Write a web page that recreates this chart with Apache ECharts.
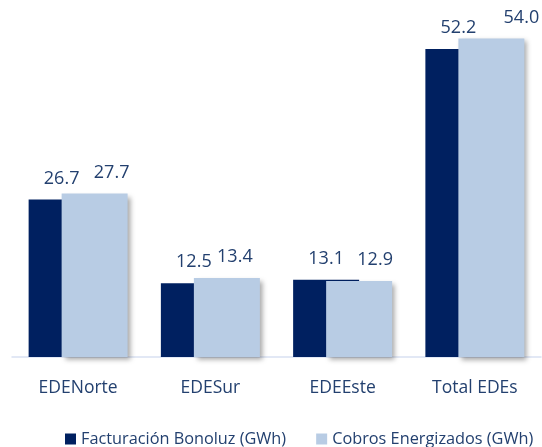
<!DOCTYPE html>
<html>
<head>
<meta charset="utf-8">
<script src="https://cdn.jsdelivr.net/npm/echarts@6/dist/echarts.min.js"></script>
<style>
  html, body { margin: 0; padding: 0; background: #fff; }
  #chart { width: 542px; height: 447px; }
</style>
</head>
<body>
<div id="chart"></div>
<script>
// datos
var categories = ['EDENorte', 'EDESur', 'EDEEste', 'Total EDEs'];
var facturacion = [26.7, 12.5, 13.1, 52.2];
var cobros = [27.7, 13.4, 12.9, 54.0];
var seriesNames = ['Facturación Bonoluz (GWh)', 'Cobros Energizados (GWh)'];
// desplazamiento horizontal de las etiquetas de la serie clara (como en el original)
var cobrosLabelShift = [17, 8, 16, 30];

var textColor = '#23406F';
var fontFam = '"Open Sans", "Liberation Sans", sans-serif';

var myChart = echarts.init(document.getElementById('chart'));

var option = {
  animation: false,
  grid: { left: 12, right: 1, top: 9, bottom: 90 },
  legend: {
    top: 426,
    left: 60,
    itemWidth: 11,
    itemHeight: 11,
    itemGap: 30,
    icon: 'rect',
    textStyle: { color: textColor, fontSize: 16.3, fontFamily: fontFam },
    data: seriesNames
  },
  xAxis: {
    type: 'category',
    data: categories,
    axisLine: { lineStyle: { color: '#D9E1F2', width: 1.5 } },
    axisTick: { show: false },
    axisLabel: { color: textColor, fontSize: 17.5, fontFamily: fontFam, margin: 22 }
  },
  yAxis: {
    type: 'value',
    min: 0,
    max: 59,
    show: false,
    splitLine: { show: false }
  },
  series: [
    {
      name: seriesNames[0],
      type: 'bar',
      data: facturacion,
      barWidth: 66,
      barGap: '-50%',
      z: 2,
      itemStyle: { color: '#002060' },
      label: {
        show: true,
        position: 'top',
        distance: 12,
        color: textColor,
        fontSize: 18,
        fontFamily: fontFam,
        formatter: function (p) { return p.value.toFixed(1); }
      }
    },
    {
      name: seriesNames[1],
      type: 'bar',
      barWidth: 66,
      z: 3,
      data: cobros.map(function (v, i) {
        return { value: v, label: { offset: [cobrosLabelShift[i], 0] } };
      }),
      itemStyle: {
        color: '#B8CCE4',
        shadowColor: 'rgba(0,0,0,0.35)',
        shadowBlur: 5,
        shadowOffsetX: 3,
        shadowOffsetY: 3
      },
      label: {
        show: true,
        position: 'top',
        distance: 12,
        color: textColor,
        fontSize: 18,
        fontFamily: fontFam,
        formatter: function (p) { return p.value.toFixed(1); }
      }
    }
  ]
};

myChart.setOption(option);
</script>
</body>
</html>
